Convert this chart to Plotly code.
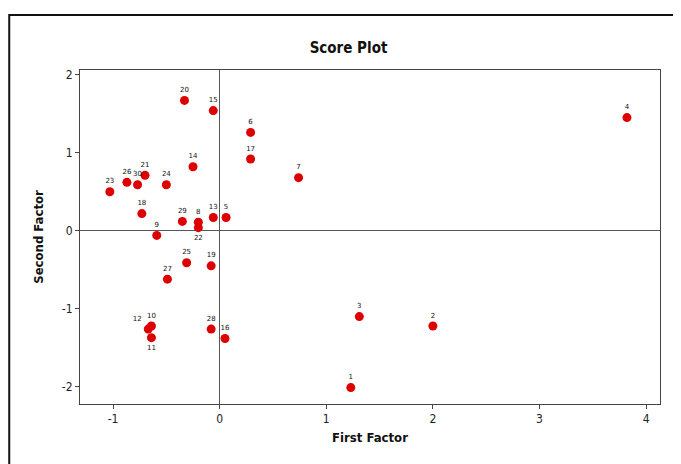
import plotly.graph_objects as go

labels = ["1", "2", "3", "4", "5", "6", "7", "8", "9", "10",
          "11", "12", "13", "14", "15", "16", "17", "18", "19", "20",
          "21", "22", "23", "24", "25", "26", "27", "28", "29", "30"]
first_factor = [1.23, 2.00, 1.31, 3.82, 0.06, 0.29, 0.74, -0.20, -0.59, -0.64,
                -0.64, -0.67, -0.06, -0.25, -0.06, 0.05, 0.29, -0.73, -0.08, -0.33,
                -0.70, -0.20, -1.03, -0.50, -0.31, -0.87, -0.49, -0.08, -0.35, -0.77]
second_factor = [-2.01, -1.22, -1.10, 1.45, 0.17, 1.26, 0.68, 0.11, -0.06, -1.22,
                 -1.37, -1.26, 0.17, 0.82, 1.54, -1.38, 0.92, 0.22, -0.45, 1.67,
                 0.71, 0.04, 0.50, 0.59, -0.41, 0.62, -0.62, -1.26, 0.12, 0.59]
x_ticks = [-1, 0, 1, 2, 3, 4]
y_ticks = [-2, -1, 0, 1, 2]

positions = ["top center"] * len(labels)
positions[labels.index("11")] = "bottom center"
positions[labels.index("22")] = "bottom center"
positions[labels.index("12")] = "top left"

font_fam = "DejaVu Sans Condensed, DejaVu Sans"

fig = go.Figure()
fig.add_trace(go.Scatter(
    x=first_factor, y=second_factor, mode="markers+text",
    text=labels, textposition=positions,
    textfont=dict(size=7, color="#111111", family="DejaVu Sans"),
    marker=dict(size=9, color="#dd0000"),
    cliponaxis=False, hoverinfo="skip",
))

axis_common = dict(
    showgrid=False, zeroline=True, zerolinecolor="#555555", zerolinewidth=1,
    showline=True, linecolor="#444444", linewidth=1, mirror=True,
    ticks="outside", ticklen=4, tickcolor="#444444",
    tickfont=dict(size=12, color="#222222", family=font_fam),
)

fig.update_layout(
    width=681, height=464,
    margin=dict(l=72, r=29, t=62, b=68),
    paper_bgcolor="white", plot_bgcolor="white",
    showlegend=False,
    title=dict(text="<b>Score Plot</b>", x=0.5, xref="container", y=0.914, yref="container",
               xanchor="center", yanchor="middle",
               font=dict(size=15, color="#111111", family=font_fam)),
    xaxis=dict(range=[-1.31, 4.13], tickvals=x_ticks, ticktext=[str(v) for v in x_ticks],
               title=dict(text="<b>First Factor</b>", standoff=7,
                          font=dict(size=13, color="#111111", family=font_fam)),
               **axis_common),
    yaxis=dict(range=[-2.22, 2.06], tickvals=y_ticks, ticktext=[str(v) for v in y_ticks],
               title=dict(text="<b>Second Factor</b>", standoff=15,
                          font=dict(size=13, color="#111111", family=font_fam)),
               **axis_common),
    shapes=[dict(type="rect", xref="paper", yref="paper",
                 x0=-0.122, x1=1.034, y0=-0.25, y1=1.165,
                 line=dict(color="#111111", width=2), layer="below")],
)

fig.write_html("out.html")
